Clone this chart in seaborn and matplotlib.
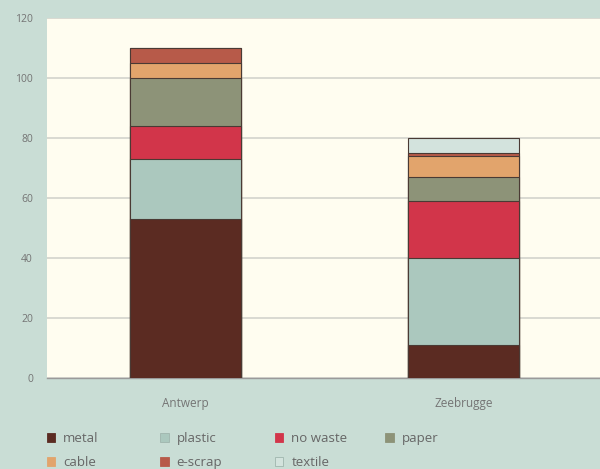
import matplotlib
matplotlib.use("Agg")
import matplotlib.pyplot as plt
from matplotlib.patches import Patch
import numpy as np
import pandas as pd
import seaborn as sns

# Waste composition per port (stacked)
ports = ["Antwerp", "Zeebrugge"]
categories = ["metal", "plastic", "no waste", "paper", "cable", "e-scrap", "textile"]
metal = [53, 11]
plastic = [20, 29]
no_waste = [11, 19]
paper = [16, 8]
cable = [5, 7]
e_scrap = [5, 1]
textile = [0, 5]
yticks = [0, 20, 40, 60, 80, 100, 120]

colors = {
    "metal": "#5b2b22",
    "plastic": "#abc8be",
    "no waste": "#d2354a",
    "paper": "#8d9378",
    "cable": "#e2a46c",
    "e-scrap": "#b75a49",
    "textile": "#d3e3dd",
}

bg = "#c9ddd5"
panel = "#fffdf0"
text_col = "#747474"

sns.set_theme(style="white")
plt.rcParams["font.family"] = ["Open Sans", "DejaVu Sans"]

series = [metal, plastic, no_waste, paper, cable, e_scrap, textile]
df = pd.DataFrame(dict(zip(categories, series)), index=ports)
cum = df.cumsum(axis=1)

fig = plt.figure(figsize=(6.0, 4.69), dpi=100, facecolor=bg)
ax = fig.add_axes([0.078, 0.194, 0.922, 0.768])
ax.set_facecolor(panel)

# Stack by overlaying cumulative totals, tallest first
for cat in reversed(categories):
    d = pd.DataFrame({"port": ports, "value": cum[cat].values})
    sns.barplot(data=d, x="port", y="value", color=colors[cat], width=0.4,
                edgecolor="#4a3a34", linewidth=0.8, saturation=1, ax=ax, zorder=3)

ax.set_xlim(-0.5, 1.49)
ax.set_ylim(0, 120)
ax.set_yticks(yticks)
ax.yaxis.grid(True, color="#d3d3cc", linewidth=1.2, zorder=0)
ax.set_axisbelow(True)
ax.set_xlabel("")
ax.set_ylabel("")
for s in ["top", "right", "left"]:
    ax.spines[s].set_visible(False)
ax.spines["bottom"].set_color("#9a9a9a")
ax.spines["bottom"].set_linewidth(1.0)
ax.tick_params(axis="y", labelsize=7.5, colors=text_col, length=0, pad=10)
ax.tick_params(axis="x", labelsize=8.5, colors=text_col, length=0, pad=14)

# Legend in four columns below the plot
col_x = [0.078, 0.267, 0.458, 0.642]
cols = [["metal", "cable"], ["plastic", "e-scrap"], ["no waste", "textile"], ["paper"]]
for x, names in zip(col_x, cols):
    handles = [Patch(facecolor=colors[n],
                     edgecolor="#9fb5ad" if n in ("plastic", "textile") else colors[n],
                     linewidth=0.6) for n in names]
    fig.legend(handles, names, loc="upper left", bbox_to_anchor=(x, 0.079),
               frameon=False, fontsize=9.5, labelcolor="#666666",
               handlelength=0.65, handleheight=0.65, handletextpad=0.6,
               labelspacing=0.85, borderpad=0, borderaxespad=0)

fig.savefig("out.png", dpi=100, facecolor=bg)
